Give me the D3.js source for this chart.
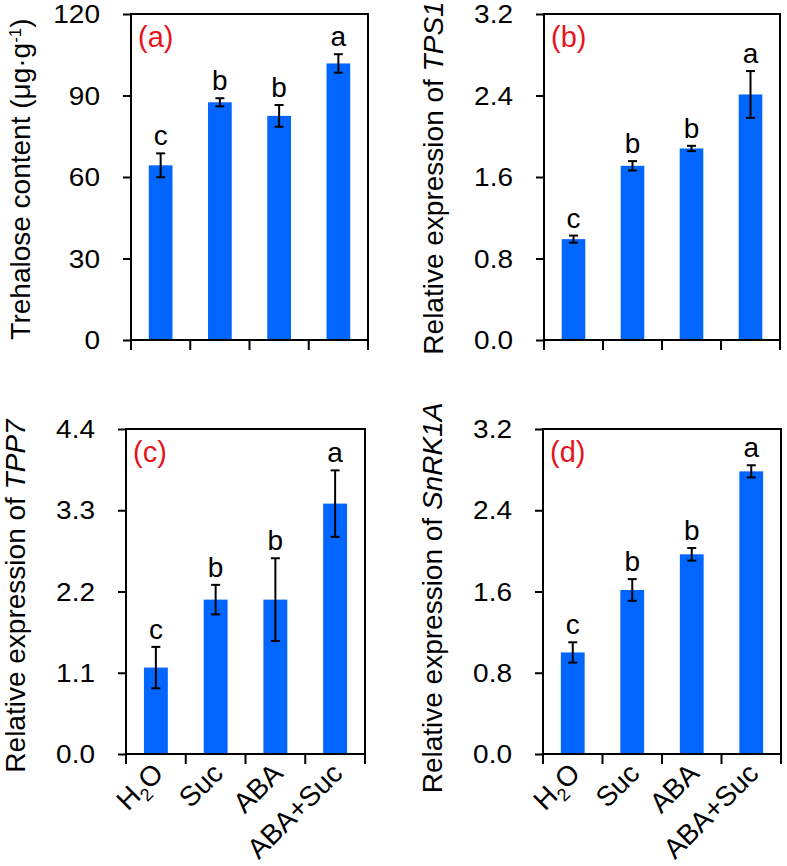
<!DOCTYPE html>
<html>
<head>
<meta charset="utf-8">
<script src="https://cdn.jsdelivr.net/npm/d3@7"></script>
<style>
  html, body { margin: 0; padding: 0; background: #fff; }
  svg { display: block; font-family: "Liberation Sans", Arial, sans-serif; }
</style>
</head>
<body>
<svg id="chart" width="787" height="866"></svg>
<script>
// ---- data ----
const categories = ["H2O", "Suc", "ABA", "ABA+Suc"];

const trehaloseValues = [64.3, 87.5, 82.5, 101.8];
const trehaloseErrors = [4.4, 1.5, 4.0, 3.4];
const trehaloseLetters = ["c", "b", "b", "a"];
const trehaloseTicks = [0, 30, 60, 90, 120];

const tps1Values = [0.99, 1.71, 1.88, 2.41];
const tps1Errors = [0.035, 0.046, 0.026, 0.23];
const tps1Letters = ["c", "b", "b", "a"];
const tps1Ticks = [0, 0.8, 1.6, 2.4, 3.2];

const tpp7Values = [1.17, 2.09, 2.09, 3.39];
const tpp7Errors = [0.28, 0.20, 0.56, 0.45];
const tpp7Letters = ["c", "b", "b", "a"];
const tpp7Ticks = [0, 1.1, 2.2, 3.3, 4.4];

const snrk1aValues = [1.00, 1.615, 1.966, 2.783];
const snrk1aErrors = [0.10, 0.107, 0.062, 0.06];
const snrk1aLetters = ["c", "b", "b", "a"];
const snrk1aTicks = [0, 0.8, 1.6, 2.4, 3.2];

// ---- layout ----
const svg = d3.select("#chart");
const panels = [
  { id: "(a)", left: 131, top: 14, w: 237, h: 326, values: trehaloseValues, errors: trehaloseErrors,
    letters: trehaloseLetters, ticks: trehaloseTicks, fmt: d3.format("d"),
    title: [{t: "Trehalose content (μg·g"}, {t: "-1", sup: true}, {t: ")"}], titleC: 165, xlabels: false },
  { id: "(b)", left: 544, top: 14, w: 236, h: 326, values: tps1Values, errors: tps1Errors,
    letters: tps1Letters, ticks: tps1Ticks, fmt: d3.format(".1f"),
    title: [{t: "Relative expression of "}, {t: "TPS1", it: true}], titleC: 164, xlabels: false },
  { id: "(c)", left: 126, top: 429, w: 239, h: 325, values: tpp7Values, errors: tpp7Errors,
    letters: tpp7Letters, ticks: tpp7Ticks, fmt: d3.format(".1f"),
    title: [{t: "Relative expression of "}, {t: "TPP7", it: true}], titleC: 167, xlabels: true },
  { id: "(d)", left: 543, top: 429, w: 238, h: 325, values: snrk1aValues, errors: snrk1aErrors,
    letters: snrk1aLetters, ticks: snrk1aTicks, fmt: d3.format(".1f"),
    title: [{t: "Relative expression of "}, {t: "SnRK1A", it: true}], titleC: 169, xlabels: true }
];

const barColor = "#0066ff";

panels.forEach(p => {
  const g = svg.append("g").attr("transform", `translate(${p.left},${p.top})`);
  const x = d3.scaleBand().domain(categories).range([0, p.w]).padding(0);
  const y = d3.scaleLinear().domain([0, p.ticks[p.ticks.length - 1]]).range([p.h, 0]);
  const bw = x.bandwidth() * 0.4;

  // bars
  g.selectAll("rect.bar").data(categories).join("rect")
    .attr("class", "bar")
    .attr("x", d => x(d) + x.bandwidth() / 2 - bw / 2)
    .attr("width", bw)
    .attr("y", (d, i) => y(p.values[i]))
    .attr("height", (d, i) => p.h - y(p.values[i]))
    .attr("fill", barColor);

  // error bars
  const eb = g.selectAll("g.err").data(categories).join("g").attr("class", "err")
    .attr("transform", d => `translate(${x(d) + x.bandwidth() / 2},0)`);
  eb.append("line")
    .attr("y1", (d, i) => y(p.values[i] - p.errors[i]))
    .attr("y2", (d, i) => y(p.values[i] + p.errors[i]))
    .attr("stroke", "#000").attr("stroke-width", 2);
  eb.append("line").attr("x1", -4.5).attr("x2", 4.5)
    .attr("y1", (d, i) => y(p.values[i] + p.errors[i]))
    .attr("y2", (d, i) => y(p.values[i] + p.errors[i]))
    .attr("stroke", "#000").attr("stroke-width", 2);
  eb.append("line").attr("x1", -4.5).attr("x2", 4.5)
    .attr("y1", (d, i) => y(p.values[i] - p.errors[i]))
    .attr("y2", (d, i) => y(p.values[i] - p.errors[i]))
    .attr("stroke", "#000").attr("stroke-width", 2);

  // significance letters
  g.selectAll("text.sig").data(categories).join("text")
    .attr("class", "sig")
    .attr("x", d => x(d) + x.bandwidth() / 2)
    .attr("y", (d, i) => y(p.values[i] + p.errors[i]) - 8)
    .attr("text-anchor", "middle")
    .attr("font-size", 28)
    .text((d, i) => p.letters[i]);

  // y axis
  const yAxis = d3.axisLeft(y).tickValues(p.ticks).tickFormat(p.fmt).tickSize(8).tickPadding(23);
  const ya = g.append("g").call(yAxis);
  ya.attr("font-size", 25).attr("font-family", null);
  ya.select(".domain").remove();
  ya.selectAll("line").attr("stroke", "#000").attr("stroke-width", 2);
  // slightly wide digits as in the original figure
  ya.selectAll("text")
    .attr("font-size", 25).attr("fill", "#000")
    .attr("x", 0).attr("dy", "0.34em")
    .attr("transform", "translate(-31,0) scale(1.12,1)");

  // x axis: ticks at band boundaries
  const bounds = categories.map(c => x(c)).concat([p.w]);
  g.selectAll("line.xt").data(bounds).join("line").attr("class", "xt")
    .attr("x1", d => d).attr("x2", d => d).attr("y1", p.h).attr("y2", p.h + 10)
    .attr("stroke", "#000").attr("stroke-width", 2);

  // frame
  g.append("rect").attr("x", 0).attr("y", 0).attr("width", p.w).attr("height", p.h)
    .attr("fill", "none").attr("stroke", "#000").attr("stroke-width", 2);

  // panel label
  g.append("text").attr("x", 7).attr("y", 33).attr("font-size", 29).attr("fill", "#e8141b").text(p.id);

  // y title
  const tt = g.append("text")
    .attr("transform", `translate(-101,${p.titleC}) rotate(-90)`)
    .attr("text-anchor", "middle").attr("font-size", 28).attr("fill", "#000");
  p.title.forEach(s => {
    const ts = tt.append("tspan").text(s.t);
    if (s.it) ts.attr("font-style", "italic");
    if (s.sup) ts.attr("font-size", 17).attr("baseline-shift", "super");
  });

  // x labels
  if (p.xlabels) {
    const xl = g.selectAll("text.xl").data(categories).join("text").attr("class", "xl")
      .attr("transform", d => `translate(${x(d) + x.bandwidth() / 2 + 9},${p.h + 21}) rotate(-45)`)
      .attr("text-anchor", "end").attr("font-size", 28).attr("fill", "#000");
    xl.each(function(d) {
      const t = d3.select(this);
      if (d === "H2O") {
        t.append("tspan").text("H");
        t.append("tspan").text("2").attr("font-size", 18).attr("dy", 7);
        t.append("tspan").text("O").attr("dy", -7);
      } else {
        t.text(d);
      }
    });
  }
});
</script>
</body>
</html>
